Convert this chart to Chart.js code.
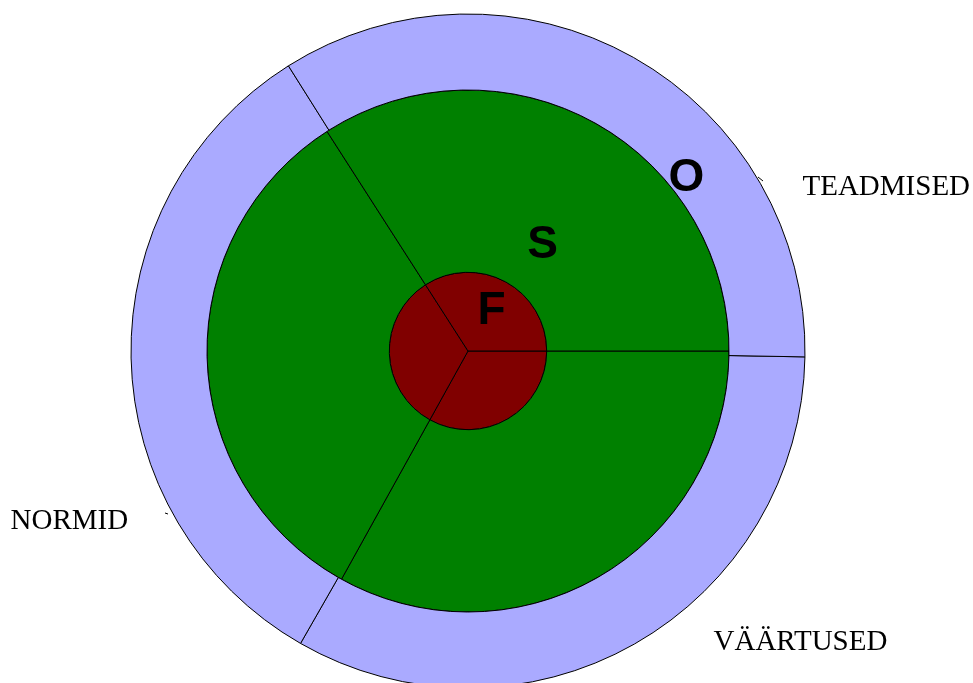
<!DOCTYPE html>
<html><head><meta charset="utf-8">
<script src="https://cdn.jsdelivr.net/npm/chart.js@4"></script>
<style>html,body{margin:0;padding:0;background:#fff;overflow:hidden;width:973px;height:683px}canvas{display:block}</style>
</head><body>
<canvas id="c" width="973" height="683"></canvas>
<script>
// Sectors (clockwise starting from the right-hand horizontal line)
const categories = ['VÄÄRTUSED', 'NORMID', 'TEADMISED'];
// Rings, outermost first
const ringNames = ['O', 'S', 'F'];
// Sector sizes in degrees
const outerRingValues = [118.8, 118.0, 123.2];
const middleRingValues = [119.0, 118.3, 122.7];
const innerRingValues = [119.0, 118.3, 122.7];

const ringColors = ['#AAAAFF', '#008000', '#800000'];

const labelPlugin = {
  id: 'labels',
  afterDatasetsDraw(chart) {
    const ctx = chart.ctx;
    const arc = chart.getDatasetMeta(0).data[0];
    const cx = arc.x, cy = arc.y;
    ctx.save();
    ctx.fillStyle = '#000';
    // ring letters (in the TEADMISED sector of each ring)
    ctx.font = 'bold 46px "Liberation Sans", Arial, sans-serif';
    ctx.textAlign = 'center';
    ctx.textBaseline = 'alphabetic';
    const ringPos = [[218.5, -160], [74.5, -93], [23.5, -27]];
    ringNames.forEach((n, i) => ctx.fillText(n, cx + ringPos[i][0], cy + ringPos[i][1]));
    // category labels
    ctx.font = '29px "Liberation Serif", "Times New Roman", serif';
    ctx.textAlign = 'left';
    const catPos = [[245.5, 299], [-457.5, 178], [334.5, -156]];
    categories.forEach((c, i) => ctx.fillText(c, cx + catPos[i][0], cy + catPos[i][1]));
    // small leader-line remnants
    ctx.strokeStyle = '#000';
    ctx.lineWidth = 1;
    ctx.beginPath();
    ctx.moveTo(cx + 290, cy - 174); ctx.lineTo(cx + 295, cy - 170);
    ctx.moveTo(cx - 303, cy + 162); ctx.lineTo(cx - 300, cy + 163);
    ctx.stroke();
    ctx.restore();
  }
};

new Chart(document.getElementById('c'), {
  type: 'pie',
  data: {
    labels: categories,
    datasets: [
      { label: ringNames[0], data: outerRingValues, backgroundColor: ringColors[0], weight: 76, rotation: 91 },
      { label: ringNames[1], data: middleRingValues, backgroundColor: ringColors[1], weight: 182.3, rotation: 90 },
      { label: ringNames[2], data: innerRingValues, backgroundColor: ringColors[2], weight: 78.7, rotation: 90 }
    ]
  },
  options: {
    responsive: false,
    animation: false,
    events: [],
    radius: 337,
    layout: { padding: { left: 0, right: 37, top: 19, bottom: 0 } },
    datasets: { pie: { clip: false } },
    elements: { arc: { borderColor: '#000', borderWidth: 1 } },
    plugins: { legend: { display: false }, tooltip: { enabled: false } }
  },
  plugins: [labelPlugin]
});
</script>
</body></html>
